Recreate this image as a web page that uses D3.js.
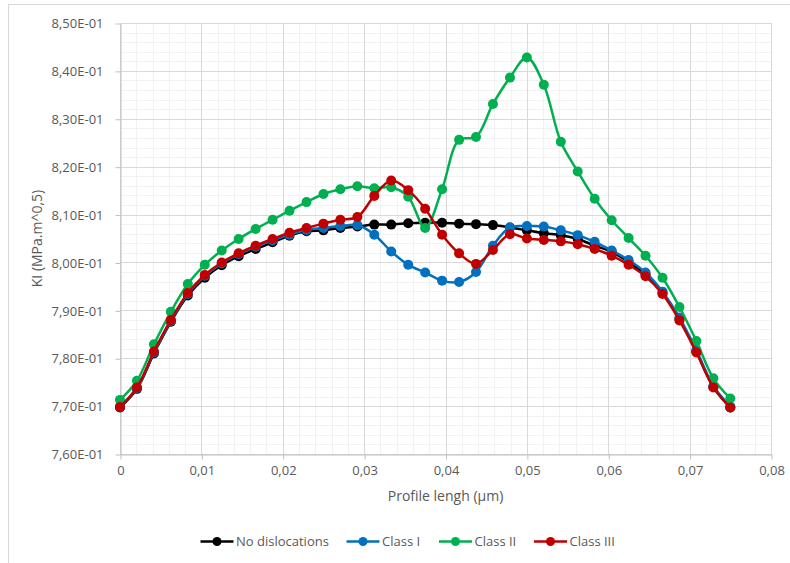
<!DOCTYPE html>
<html>
<head>
<meta charset="utf-8">
<script src="https://cdn.jsdelivr.net/npm/d3@7/dist/d3.min.js"></script>
<style>
  html, body { margin: 0; padding: 0; background: #fff; }
  svg { display: block; font-family: "Open Sans", "Noto Sans", sans-serif; }
</style>
</head>
<body>
<svg id="chart" width="790" height="563"></svg>
<script>
// ---- data ----
const profileLength = [0, 0.00208, 0.00417, 0.00625, 0.00833, 0.01042, 0.0125, 0.01458, 0.01667, 0.01875,
  0.02083, 0.02292, 0.025, 0.02708, 0.02917, 0.03125, 0.03333, 0.03542, 0.0375, 0.03958,
  0.04167, 0.04375, 0.04583, 0.04792, 0.05, 0.05208, 0.05417, 0.05625, 0.05833, 0.06042,
  0.0625, 0.06458, 0.06667, 0.06875, 0.07083, 0.07292, 0.075];

const noDislocations = [0.7697, 0.7736, 0.7810, 0.7876, 0.7931, 0.7968, 0.7994, 0.8013, 0.8028, 0.8042,
  0.8056, 0.8065, 0.8067, 0.8072, 0.8075, 0.8079, 0.8079, 0.8082, 0.8083, 0.8083,
  0.8081, 0.8080, 0.8078, 0.8073, 0.8067, 0.8061, 0.8057, 0.8049, 0.8035, 0.8022,
  0.8001, 0.7975, 0.7936, 0.7882, 0.7814, 0.7740, 0.7697];

const classI = [0.7699, 0.7738, 0.7812, 0.7878, 0.7934, 0.7972, 0.7998, 0.8017, 0.8033, 0.8046,
  0.8058, 0.8068, 0.8072, 0.8076, 0.8078, 0.8058, 0.8023, 0.7995, 0.7979, 0.7962,
  0.7959, 0.7980, 0.8035, 0.8073, 0.8076, 0.8075, 0.8067, 0.8057, 0.8043, 0.8025,
  0.8005, 0.7979, 0.7939, 0.7885, 0.7817, 0.7742, 0.7699];

const classII = [0.7713, 0.7753, 0.7829, 0.7897, 0.7955, 0.7995, 0.8025, 0.8049, 0.8070, 0.8089,
  0.8108, 0.8126, 0.8143, 0.8153, 0.8159, 0.8155, 0.8157, 0.8137, 0.8072, 0.8153,
  0.8256, 0.8262, 0.8331, 0.8386, 0.8428, 0.8371, 0.8252, 0.8190, 0.8133, 0.8088,
  0.8051, 0.8014, 0.7968, 0.7907, 0.7836, 0.7758, 0.7716];

const classIII = [0.7698, 0.7739, 0.7814, 0.7880, 0.7936, 0.7974, 0.8000, 0.8019, 0.8035, 0.8049,
  0.8062, 0.8072, 0.8081, 0.8089, 0.8095, 0.8139, 0.8171, 0.8151, 0.8112, 0.8058,
  0.8019, 0.7997, 0.8026, 0.8059, 0.8050, 0.8047, 0.8044, 0.8038, 0.8028, 0.8014,
  0.7995, 0.7971, 0.7934, 0.7879, 0.7812, 0.7739, 0.7697];

const seriesNames = ["No dislocations", "Class I", "Class II", "Class III"];
const seriesColors = ["#000000", "#0070C0", "#00B050", "#C00000"];
const xTicks = [0, 0.01, 0.02, 0.03, 0.04, 0.05, 0.06, 0.07, 0.08];
const xTickLabels = ["0", "0,01", "0,02", "0,03", "0,04", "0,05", "0,06", "0,07", "0,08"];
const yTicks = [0.76, 0.77, 0.78, 0.79, 0.80, 0.81, 0.82, 0.83, 0.84, 0.85];
const yTickLabels = ["7,60E-01", "7,70E-01", "7,80E-01", "7,90E-01", "8,00E-01", "8,10E-01", "8,20E-01", "8,30E-01", "8,40E-01", "8,50E-01"];
const xTitle = "Profile lengh (µm)";
const yTitle = "KI (MPa.m^0,5)";

// ---- drawing ----
const svg = d3.select("#chart");
const plot = { left: 120, right: 771, top: 23, bottom: 454 };
const textColor = "#595959";

// outer chart border (only top & left visible in frame)
svg.append("rect").attr("x", 8.5).attr("y", 4.5).attr("width", 800).attr("height", 600)
  .attr("fill", "#fff").attr("stroke", "#d9d9d9").attr("stroke-width", 1);

const x = d3.scaleLinear().domain([0, 0.08]).range([plot.left, plot.right]);
const y = d3.scaleLinear().domain([0.76, 0.85]).range([plot.bottom, plot.top]);

// minor grid
const minorX = d3.range(0, 40).map(i => i * 0.002).filter((v, i) => i % 5 !== 0);
const minorY = d3.range(0, 45).map(i => 0.76 + i * 0.002).filter((v, i) => i % 5 !== 0);
const grid = svg.append("g");
grid.selectAll(".mx").data(minorX).join("line")
  .attr("x1", d => Math.round(x(d)) + 0.5).attr("x2", d => Math.round(x(d)) + 0.5)
  .attr("y1", plot.top).attr("y2", plot.bottom)
  .attr("stroke", "#f2f2f2").attr("stroke-width", 1);
grid.selectAll(".my").data(minorY).join("line")
  .attr("y1", d => Math.round(y(d)) + 0.5).attr("y2", d => Math.round(y(d)) + 0.5)
  .attr("x1", plot.left).attr("x2", plot.right)
  .attr("stroke", "#f2f2f2").attr("stroke-width", 1);
// major grid
grid.selectAll(".Mx").data(xTicks).join("line")
  .attr("x1", d => Math.round(x(d)) + 0.5).attr("x2", d => Math.round(x(d)) + 0.5)
  .attr("y1", plot.top).attr("y2", plot.bottom)
  .attr("stroke", "#d9d9d9").attr("stroke-width", 1);
grid.selectAll(".My").data(yTicks).join("line")
  .attr("y1", d => Math.round(y(d)) + 0.5).attr("y2", d => Math.round(y(d)) + 0.5)
  .attr("x1", plot.left).attr("x2", plot.right)
  .attr("stroke", "#d9d9d9").attr("stroke-width", 1);

// axes
const xAxis = d3.axisBottom(x).tickValues(xTicks).tickFormat((d, i) => xTickLabels[i]).tickSize(5).tickSizeOuter(0);
const gx = svg.append("g").attr("transform", `translate(0.5,${plot.bottom + 0.5})`).call(xAxis);
gx.select(".domain").attr("stroke", "#bfbfbf");
gx.selectAll(".tick line").attr("stroke", "#bfbfbf");
gx.selectAll(".tick text").attr("fill", textColor).attr("font-size", "13px").attr("dy", "0.95em")
  .attr("font-family", "'Open Sans', sans-serif");

const yAxis = d3.axisLeft(y).tickValues(yTicks).tickFormat((d, i) => yTickLabels[i]).tickSize(5).tickSizeOuter(0);
const gy = svg.append("g").attr("transform", `translate(${plot.left + 0.5},0.5)`).call(yAxis);
gy.select(".domain").attr("stroke", "#bfbfbf");
gy.selectAll(".tick line").attr("stroke", "#bfbfbf");
gy.selectAll(".tick text").attr("fill", textColor).attr("font-size", "13px").attr("x", -17)
  .attr("font-family", "'Open Sans', sans-serif");

// axis titles
svg.append("text").attr("x", (plot.left + plot.right) / 2).attr("y", 501)
  .attr("text-anchor", "middle").attr("fill", textColor).attr("font-size", "14px").text(xTitle);
svg.append("text").attr("transform", `translate(42,${(plot.top + plot.bottom) / 2}) rotate(-90)`)
  .attr("text-anchor", "middle").attr("fill", textColor).attr("font-size", "14px").text(yTitle);

// series
const allSeries = [noDislocations, classI, classII, classIII];
const line = d3.line().x((d, i) => x(profileLength[i])).y(d => y(d)).curve(d3.curveCatmullRom.alpha(0.5));
allSeries.forEach((vals, k) => {
  const g = svg.append("g");
  g.append("path").datum(vals).attr("d", line).attr("fill", "none")
    .attr("stroke", seriesColors[k]).attr("stroke-width", 2.5).attr("stroke-linejoin", "round");
  g.selectAll("circle").data(vals).join("circle")
    .attr("cx", (d, i) => x(profileLength[i])).attr("cy", d => y(d)).attr("r", 5)
    .attr("fill", seriesColors[k]);
});

// legend
const legendX = [200.5, 346.5, 439, 534];
const leg = svg.append("g");
seriesNames.forEach((name, k) => {
  const lx = legendX[k], ly = 541.5;
  leg.append("line").attr("x1", lx).attr("x2", lx + 33).attr("y1", ly).attr("y2", ly)
    .attr("stroke", seriesColors[k]).attr("stroke-width", 2.5);
  leg.append("circle").attr("cx", lx + 16.5).attr("cy", ly).attr("r", 4.5).attr("fill", seriesColors[k]);
  leg.append("text").attr("x", lx + 35.5).attr("y", ly + 4.5).attr("fill", textColor)
    .attr("font-size", "13px").text(name);
});
</script>
</body>
</html>
